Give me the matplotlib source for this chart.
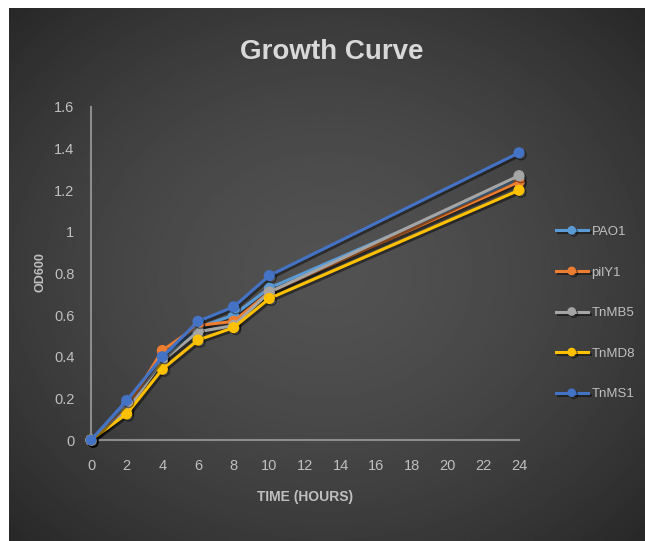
import numpy as np
import matplotlib
matplotlib.use("Agg")
import matplotlib.pyplot as plt
import matplotlib.patheffects as pe

plt.rcParams['font.family'] = ['Liberation Sans Narrow', 'Liberation Sans', 'DejaVu Sans']

hours = [0, 2, 4, 6, 8, 10, 24]
pao1 = [0, 0.17, 0.40, 0.54, 0.60, 0.73, 1.25]
pily1 = [0, 0.15, 0.43, 0.55, 0.57, 0.71, 1.24]
tnmb5 = [0, 0.14, 0.38, 0.52, 0.55, 0.71, 1.27]
tnmd8 = [0, 0.125, 0.34, 0.48, 0.54, 0.68, 1.20]
tnms1 = [0, 0.19, 0.40, 0.57, 0.64, 0.79, 1.38]

names = ['PAO1', 'pilY1', 'TnMB5', 'TnMD8', 'TnMS1']
colors = ['#5B9BD5', '#ED7D31', '#A5A5A5', '#FFC000', '#4472C4']
series = [pao1, pily1, tnmb5, tnmd8, tnms1]

fig = plt.figure(figsize=(6.45, 5.41), dpi=100, facecolor='white')

# dark radial background panel
bg = fig.add_axes([9 / 645, 0, 636 / 645, 533 / 541])
yy, xx = np.mgrid[0:1:300j, 0:1:360j]
d = np.sqrt(((xx - 0.5) / 0.75) ** 2 + ((yy - 0.5) / 0.75) ** 2)
shade = 0.32 - 0.18 * np.clip(d, 0, 1) ** 1.6
bg.imshow(shade, cmap='gray', vmin=0, vmax=1, aspect='auto', extent=[0, 1, 0, 1])
bg.axis('off')

ax = fig.add_axes([91 / 645, 101 / 541, 428 / 645, 333 / 541])
ax.set_facecolor('none')

shadow = [pe.SimpleLineShadow(offset=(1.5, -1.5), shadow_color='black', alpha=0.45), pe.Normal()]
for name, vals, c in zip(names, series, colors):
    ax.plot(hours, vals, color=c, lw=2.2, marker='o', ms=7, label=name,
            path_effects=shadow, clip_on=False, zorder=3)

ax.set_xlim(0, 24)
ax.set_ylim(0, 1.6)
ax.set_xticks(range(0, 25, 2))
ax.set_yticks(np.arange(0, 1.61, 0.2))
ax.set_yticklabels(['0', '0.2', '0.4', '0.6', '0.8', '1', '1.2', '1.4', '1.6'])
ax.tick_params(length=0, colors='#bfbfbf', labelsize=10.5)
ax.tick_params(axis='y', pad=12)
ax.tick_params(axis='x', pad=14)
for s in ['top', 'right']:
    ax.spines[s].set_visible(False)
for s in ['left', 'bottom']:
    ax.spines[s].set_color('#8c8c8c')
    ax.spines[s].set_linewidth(1.5)

ax.set_xlabel('TIME (HOURS)', color='#bfbfbf', fontsize=10, fontweight='bold', labelpad=12)
fig.text(40 / 645, 1 - 272 / 541, 'OD600', rotation=90, color='#bfbfbf', fontsize=9,
         fontweight='bold', ha='center', va='center')
fig.text(332 / 645, 1 - 52 / 541, 'Growth Curve', color='#d9d9d9', fontsize=20,
         fontweight='bold', ha='center', va='center')

ax.legend(loc='center left', bbox_to_anchor=(544 / 645, 1 - 313 / 541),
          bbox_transform=fig.transFigure, frameon=False, labelcolor='#bfbfbf',
          fontsize=9.5, labelspacing=2.15, handlelength=2.4, handletextpad=0.3,
          markerscale=0.75)

fig.savefig('out.png', dpi=100, facecolor='white')
